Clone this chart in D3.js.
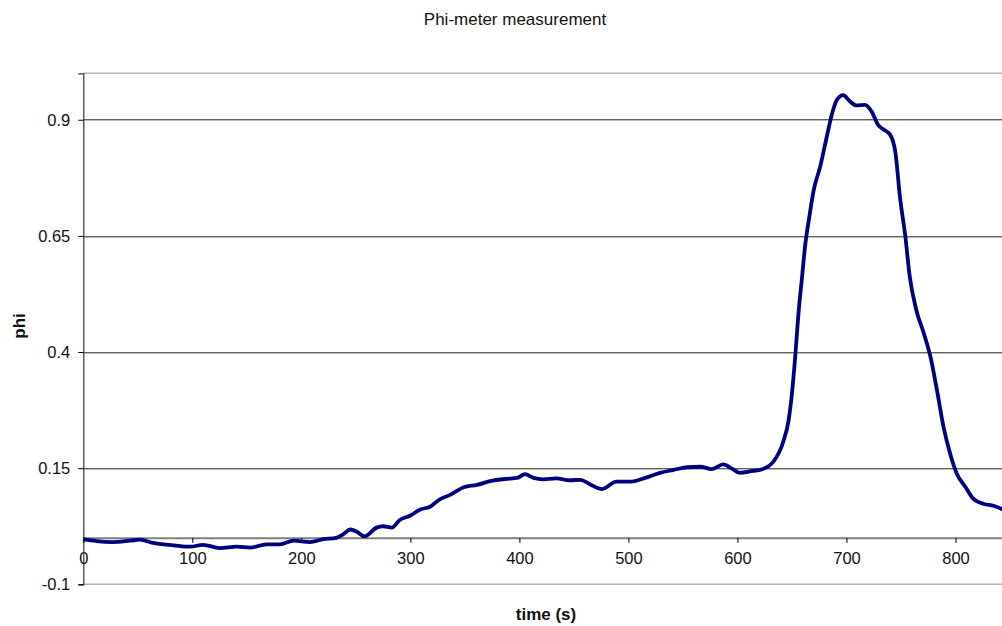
<!DOCTYPE html>
<html>
<head>
<meta charset="utf-8">
<script src="https://cdn.jsdelivr.net/npm/d3@7"></script>
<style>
    body { margin:0; background:#fff; }
    svg { display:block; font-family:"Liberation Sans", Arial, sans-serif; }
</style>
</head>
<body>
<div class="canvas"></div>
<script>
/* data */
var times = [0, 12, 27, 43, 52, 64, 83, 98, 110, 125, 141, 153, 168, 180, 193, 208, 220, 232, 238, 245, 251, 258, 269, 275, 283, 290, 300,
    309, 318, 327, 336, 349, 361, 373, 388, 398, 405, 413, 422, 434, 446, 456, 465, 476, 489, 502, 514, 529, 541, 554, 566, 576, 587, 595, 602, 614, 622,
    633, 642, 647, 650, 653, 656, 659, 662, 666, 670, 676, 682, 687, 691, 697, 703, 709, 717, 723, 729, 734, 740, 745, 749, 754, 758, 764, 771, 777,
    783, 789, 795, 801, 809, 816, 826, 835, 845];
var phiValues = [-0.003, -0.007, -0.009, -0.006, -0.004, -0.011, -0.016, -0.019, -0.015, -0.022, -0.019, -0.021, -0.014, -0.014, -0.006, -0.009, -0.003, 0.0, 0.007, 0.018, 0.013, 0.003, 0.022, 0.025, 0.022, 0.038, 0.048,
    0.061, 0.067, 0.083, 0.092, 0.109, 0.114, 0.122, 0.127, 0.129, 0.137, 0.129, 0.126, 0.128, 0.124, 0.125, 0.115, 0.105, 0.121, 0.121, 0.128, 0.140, 0.146, 0.152, 0.153, 0.148, 0.158, 0.149, 0.140, 0.144, 0.147,
    0.164, 0.207, 0.254, 0.311, 0.390, 0.484, 0.555, 0.627, 0.692, 0.749, 0.800, 0.864, 0.915, 0.942, 0.953, 0.940, 0.931, 0.932, 0.918, 0.889, 0.879, 0.868, 0.828, 0.735, 0.649, 0.563, 0.491, 0.440, 0.390,
    0.318, 0.239, 0.182, 0.139, 0.110, 0.085, 0.073, 0.069, 0.059];
var xTicks = [0, 100, 200, 300, 400, 500, 600, 700, 800];
var yTicks = [-0.1, 0.15, 0.4, 0.65, 0.9];
var xDomain = [0, 850];
var yDomain = [-0.1, 1.0];

var W = 1002, H = 626;
var margin = {t:73.3, l:83.3, r:-8, b:41.7};
var width = W - margin.l - margin.r,
    height = H - margin.t - margin.b;

var svg = d3.select('.canvas')
    .append('svg')
    .attr('width', W)
    .attr('height', H);

var plot = svg.append('g')
    .attr('transform', 'translate(' + margin.l + ',' + margin.t + ')');

var x = d3.scaleLinear().domain(xDomain).range([0, width]);
var y = d3.scaleLinear().domain(yDomain).range([height, 0]);

// plot frame (top / bottom edges, light grey)
plot.append('line')
    .attr('x1', 0).attr('x2', width).attr('y1', 0).attr('y2', 0)
    .style('stroke', '#b4b4b4').style('stroke-width', 1.5);
plot.append('line')
    .attr('x1', 0).attr('x2', width).attr('y1', height).attr('y2', height)
    .style('stroke', '#b4b4b4').style('stroke-width', 1.5);

// horizontal gridlines
plot.selectAll('.grid')
    .data(yTicks.filter(function(d){ return d > yDomain[0]; }))
    .enter()
    .append('line')
    .attr('class', 'grid')
    .attr('x1', 0).attr('x2', width)
    .attr('y1', function(d){ return Math.round(y(d)) + 0.5; })
    .attr('y2', function(d){ return Math.round(y(d)) + 0.5; })
    .style('stroke', '#222').style('stroke-width', 1);

// x axis, crossing at phi = 0
var xAxis = plot.append('g')
    .attr('transform', 'translate(0,' + y(0) + ')')
    .call(d3.axisBottom(x).tickValues(xTicks).tickSize(5).tickPadding(9).tickFormat(function(d){ return String(d); }));
xAxis.select('.domain').style('stroke', '#808080').style('stroke-width', 2);
xAxis.selectAll('.tick line').style('stroke', '#000');
xAxis.selectAll('text').style('font-size', '16.5px').style('fill', '#111');

// y axis (plain hyphen for negatives, like the original)
var yAxis = plot.append('g')
    .call(d3.axisLeft(y).tickValues(yTicks).tickSize(5).tickPadding(8).tickFormat(function(d){ return String(+d.toFixed(2)); }));
yAxis.select('.domain').style('stroke', '#333').style('stroke-width', 1.2);
yAxis.selectAll('.tick line').style('stroke', '#000');
yAxis.selectAll('text').style('font-size', '16.5px').style('fill', '#111');

// data line, clipped to the plot area
svg.append('clipPath').attr('id', 'clip')
    .append('rect').attr('x', 0).attr('y', -10).attr('width', width).attr('height', height + 20);

var pts = times.map(function(t, i){ return [t, phiValues[i]]; });
var line = d3.line()
    .x(function(d){ return x(d[0]); })
    .y(function(d){ return y(d[1]); })
    .curve(d3.curveMonotoneX);

plot.append('path')
    .datum(pts)
    .attr('clip-path', 'url(#clip)')
    .attr('d', line)
    .style('fill', 'none')
    .style('stroke', '#000080')
    .style('stroke-width', 3.8)
    .style('stroke-linejoin', 'round')
    .style('stroke-linecap', 'round');

// titles
svg.append('text')
    .attr('x', 515).attr('y', 25)
    .attr('text-anchor', 'middle')
    .style('font-size', '17px').style('fill', '#111')
    .text('Phi-meter measurement');

svg.append('text')
    .attr('x', 546).attr('y', 620)
    .attr('text-anchor', 'middle')
    .style('font-size', '17px').style('font-weight', 'bold').style('fill', '#111')
    .text('time (s)');

svg.append('text')
    .attr('transform', 'translate(25,326) rotate(-90)')
    .attr('text-anchor', 'middle')
    .style('font-size', '17px').style('font-weight', 'bold').style('fill', '#111')
    .text('phi');
</script>
</body>
</html>
